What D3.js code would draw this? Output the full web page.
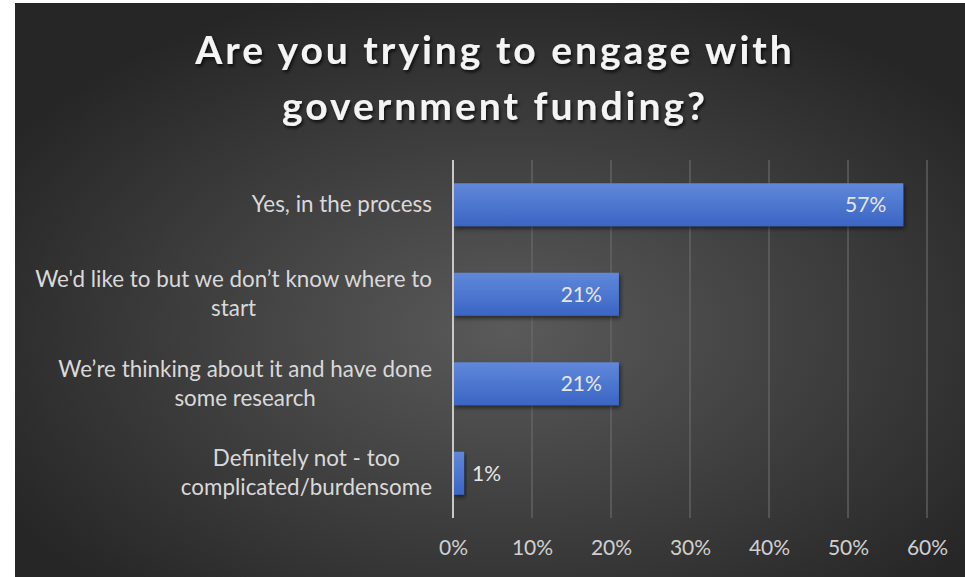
<!DOCTYPE html>
<html><head><meta charset="utf-8">
<script src="https://cdn.jsdelivr.net/npm/d3@7"></script>
<style>
html,body{margin:0;padding:0;background:#fff;}
svg{display:block;}
</style></head>
<body>
<script>
const titleLines = ["Are you trying to engage with", "government funding?"];
const categories = [
  ["Yes, in the process"],
  ["We'd like to but we don\u2019t know where to", "start"],
  ["We\u2019re thinking about it and have done", "some research"],
  ["Definitely not - too", "complicated/burdensome"]
];
const values = [57, 21, 21, 1.4];
const valueLabels = ["57%", "21%", "21%", "1%"];
const tickValues = [0, 10, 20, 30, 40, 50, 60];
const tickLabels = ["0%", "10%", "20%", "30%", "40%", "50%", "60%"];

const W = 965, H = 577;
const svg = d3.select("body").append("svg").attr("width", W).attr("height", H);
const defs = svg.append("defs");

const bg = defs.append("radialGradient").attr("id","bg")
  .attr("cx","52%").attr("cy","57%").attr("r","62%");
bg.append("stop").attr("offset","0%").attr("stop-color","#5a5a5a");
bg.append("stop").attr("offset","100%").attr("stop-color","#262626");

const bar = defs.append("linearGradient").attr("id","bar").attr("x1",0).attr("x2",0).attr("y1",0).attr("y2",1);
bar.append("stop").attr("offset","0%").attr("stop-color","#6088da");
bar.append("stop").attr("offset","100%").attr("stop-color","#3a65c4");

const sh = defs.append("filter").attr("id","sh").attr("x","-20%").attr("y","-40%").attr("width","140%").attr("height","180%");
sh.append("feDropShadow").attr("dx",1.5).attr("dy",2.5).attr("stdDeviation",2).attr("flood-color","#000").attr("flood-opacity",0.55);
const tsh = defs.append("filter").attr("id","tsh").attr("x","-10%").attr("y","-30%").attr("width","120%").attr("height","160%");
tsh.append("feDropShadow").attr("dx",1.5).attr("dy",2.5).attr("stdDeviation",1.8).attr("flood-color","#000").attr("flood-opacity",0.7);

svg.append("rect").attr("x",15).attr("y",3).attr("width",W-15).attr("height",H-3).attr("fill","url(#bg)");

const x = d3.scaleLinear().domain([0,60]).range([453,927]);
const y = d3.scaleBand().domain(d3.range(categories.length)).range([160,518]).paddingInner(0.52).paddingOuter(0.26);

const font = "Lato, 'Open Sans', sans-serif";

// title
const title = svg.append("text").attr("x",495).attr("text-anchor","middle")
  .attr("font-family",font).attr("font-weight","bold")
  .attr("font-size",39).attr("letter-spacing",3).attr("fill","#f4f4f4").attr("filter","url(#tsh)");
titleLines.forEach((t,i)=>title.append("tspan").attr("x",495).attr("y",64+i*56).text(t));

// gridlines
svg.append("g").selectAll("line").data(tickValues.slice(1)).join("line")
  .attr("x1",d=>x(d)).attr("x2",d=>x(d)).attr("y1",160).attr("y2",518)
  .attr("stroke","#6a6a6a").attr("stroke-width",1.2);

// bars
svg.append("g").selectAll("rect").data(values).join("rect")
  .attr("x",x(0)).attr("y",(d,i)=>y(i)).attr("width",d=>x(d)-x(0)).attr("height",y.bandwidth())
  .attr("fill","url(#bar)").attr("filter","url(#sh)");

// axis line
svg.append("line").attr("x1",x(0)).attr("x2",x(0)).attr("y1",160).attr("y2",518)
  .attr("stroke","#c8c8c8").attr("stroke-width",2);

// x tick labels
const xAxis = d3.axisBottom(x).tickValues(tickValues).tickFormat((d,i)=>tickLabels[i]).tickSize(0).tickPadding(0);
const gx = svg.append("g").attr("transform","translate(0,540)").call(xAxis);
gx.select(".domain").remove();
gx.selectAll("text").attr("font-family",font).attr("font-size",21).attr("fill","#d0d0d0").attr("dy","0.72em");

// value labels
svg.append("g").selectAll("text").data(values).join("text")
  .attr("x",d=> d>=5 ? x(d)-17 : x(d)+8)
  .attr("y",(d,i)=>y(i)+y.bandwidth()/2+7.5)
  .attr("text-anchor",d=> d>=5 ? "end" : "start")
  .attr("font-family",font).attr("font-size",21).attr("fill","#e6e6e6")
  .text((d,i)=>valueLabels[i]);

// category labels
const cg = svg.append("g");
categories.forEach((lines,i)=>{
  const cy = y(i)+y.bandwidth()/2;
  const t = cg.append("text").attr("text-anchor","middle")
    .attr("font-family",font).attr("font-size",22.4).attr("fill","#d9d9d9");
  const spans = lines.map((ln,j)=>t.append("tspan").attr("y",cy+(j-(lines.length-1)/2)*29+7.5).text(ln));
  const maxW = d3.max(spans, s=>s.node().getComputedTextLength());
  spans.forEach(s=>s.attr("x",432-maxW/2));
});
</script>
</body></html>
